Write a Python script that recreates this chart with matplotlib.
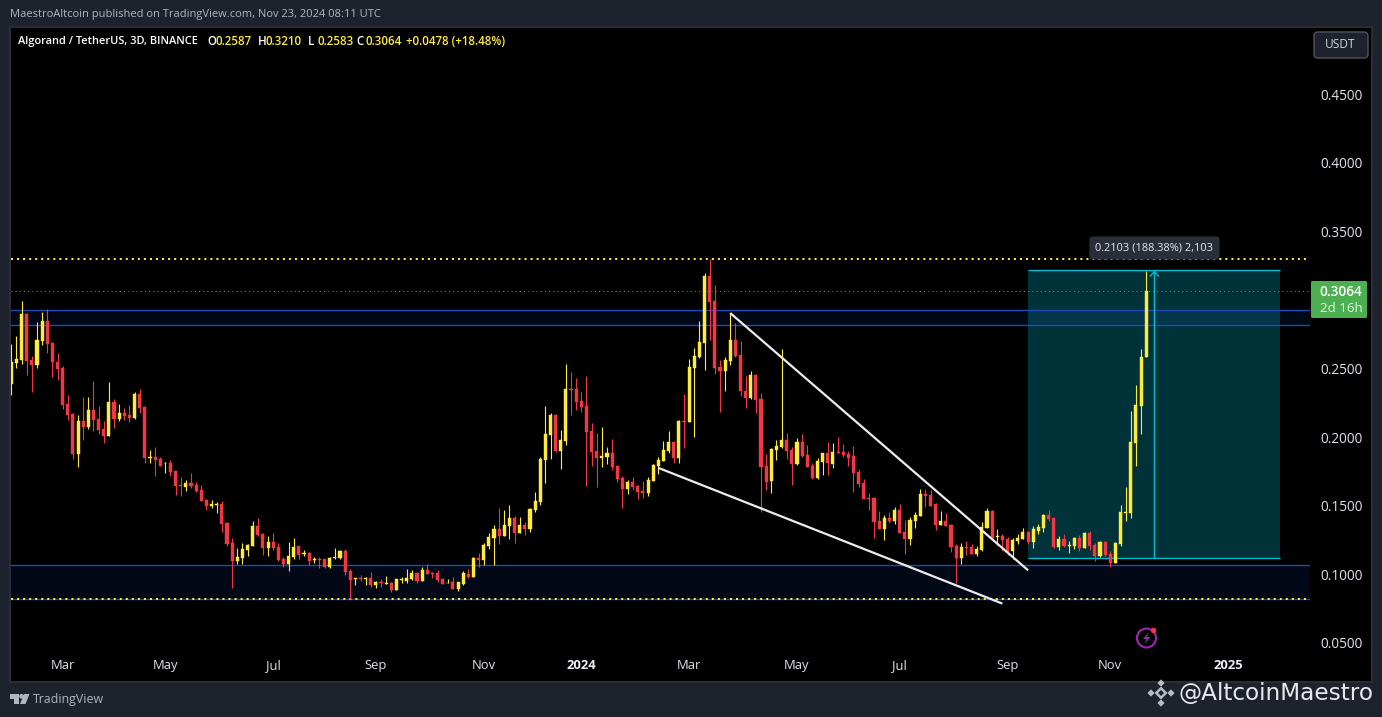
import numpy as np
import matplotlib
matplotlib.use("Agg")
import matplotlib.pyplot as plt
from matplotlib.patches import Rectangle, Circle, Polygon, FancyBboxPatch
from matplotlib.transforms import Affine2D

# ALGO/USDT 3D candles, prices in ten-thousandths of a USDT
highs_e4 = [
2678,2736,2991,2904,2590,2838,2911,2933,2692,2612,
2517,2306,2175,2160,2291,2291,2408,2226,2116,2401,
2277,2240,2211,2233,2328,2350,2226,1905,1927,1854,
1817,1832,1752,1708,1686,1737,1672,1650,1548,1540,
1526,1533,1380,1263,1191,1227,1220,1387,1409,1300,
1278,1300,1227,1125,1234,1263,1205,1176,1161,1125,
1125,1110,1125,1191,1176,1183,1037,972,994,979,
1016,950,965,986,943,965,979,1037,1030,1016,
1052,1074,1016,1030,972,965,979,943,1023,1037,
1125,1154,1227,1300,1358,1482,1468,1504,1424,1417,
1380,1482,1599,1854,2226,2175,2167,2051,2532,2474,
2430,2328,2444,2102,2029,2073,1927,1985,1796,1715,
1686,1708,1650,1679,1708,1803,1854,1971,2043,1971,
2124,2313,2568,2649,2845,3195,3297,3108,2561,2583,
2904,2831,2700,2444,2481,2459,2320,1876,1920,1978,
2641,2029,1927,1990,2022,1941,1810,1847,1883,1963,
1956,1999,1949,1898,1934,1766,1694,1591,1562,1460,
1431,1453,1489,1511,1395,1417,1453,1621,1621,1613,
1519,1460,1446,1366,1220,1227,1242,1220,1205,1380,
1482,1468,1329,1293,1271,1263,1293,1336,1315,1351,
1366,1438,1468,1409,1278,1293,1242,1271,1285,1307,
1315,1227,1242,1242,1169,1234,1504,1635,2189,2379,
2641,3210]
lows_e4 = [
2306,2503,2532,2452,2328,2503,2670,2612,2437,2415,
2204,2124,1839,1781,1978,2058,2043,2022,1956,2007,
2065,2116,2124,2109,2131,2175,1810,1810,1715,1788,
1737,1715,1577,1570,1606,1628,1599,1533,1468,1482,
1446,1307,1205,899,1074,1074,1132,1205,1278,1140,
1132,1176,1096,1052,1023,1110,1110,1132,1067,1081,
1045,1045,1045,1110,1110,994,819,921,950,921,
906,899,906,928,870,884,935,935,957,935,
950,1001,972,943,928,935,892,877,921,972,
979,1052,1067,1183,1067,1220,1278,1256,1227,1300,
1285,1307,1453,1504,1664,1839,1890,1766,1941,2160,
2197,2182,1643,1788,1635,1781,1803,1759,1672,1482,
1584,1613,1548,1555,1570,1679,1730,1825,1883,1810,
1810,1920,2109,1999,2576,2488,2707,2459,2182,2335,
2525,2583,2299,2211,2277,2175,1453,1613,1591,1832,
1920,1839,1650,1796,1854,1781,1694,1694,1723,1723,
1774,1883,1854,1788,1599,1635,1548,1468,1263,1329,
1249,1373,1366,1300,1147,1212,1336,1424,1489,1497,
1322,1358,1351,1161,935,1074,1140,1147,1132,1169,
1336,1249,1212,1169,1140,1110,1220,1256,1220,1191,
1293,1307,1387,1191,1176,1198,1154,1183,1169,1191,
1176,1096,1125,1132,1052,1081,1205,1387,1409,1788,
2022,2583]
opens_e4 = [
2386,2539,2561,2896,2561,2525,2700,2845,2685,2547,
2503,2240,2167,1876,2116,2073,2197,2131,2058,2007,
2255,2131,2175,2160,2138,2313,2218,1847,1854,1839,
1808,1810,1752,1650,1635,1664,1650,1613,1540,1497,
1509,1511,1373,1227,1096,1118,1176,1205,1351,1293,
1191,1234,1198,1110,1074,1125,1205,1147,1154,1106,
1110,1110,1052,1118,1118,1169,1023,965,972,965,
972,921,943,931,935,884,960,950,965,1008,
950,1030,1011,1008,965,935,943,892,928,1001,
979,1118,1103,1205,1263,1329,1278,1351,1409,1300,
1358,1329,1468,1526,1832,2014,2160,1898,1971,2350,
2350,2262,2226,2043,1898,1847,1854,1883,1788,1701,
1621,1672,1643,1606,1592,1679,1788,1825,1898,1963,
1847,2116,2109,2503,2583,2685,3173,2991,2510,2481,
2554,2707,2598,2335,2282,2452,2277,1788,1679,1905,
1927,1978,1905,1803,1963,1868,1788,1701,1818,1883,
1803,1890,1890,1876,1861,1745,1664,1555,1555,1387,
1329,1409,1387,1468,1307,1256,1387,1424,1584,1577,
1511,1358,1387,1358,1205,1118,1198,1198,1147,1176,
1336,1460,1273,1278,1256,1169,1242,1256,1307,1234,
1315,1336,1431,1409,1198,1256,1208,1205,1263,1191,
1300,1212,1132,1234,1147,1081,1220,1448,1446,1956,
2226,2587]
closes_e4 = [
2547,2568,2896,2554,2525,2707,2845,2678,2547,2496,
2233,2160,1876,2116,2073,2197,2124,2051,2007,2255,
2131,2175,2153,2138,2313,2211,1847,1854,1832,1788,
1810,1745,1643,1645,1664,1643,1606,1533,1497,1511,
1514,1366,1220,1096,1125,1183,1212,1351,1285,1191,
1234,1191,1103,1074,1132,1198,1140,1154,1096,1110,
1106,1052,1118,1125,1169,1016,957,972,965,972,
921,943,938,935,884,965,965,972,1008,950,
1030,1001,1006,957,928,940,892,943,1008,979,
1118,1103,1212,1271,1329,1278,1358,1409,1300,1358,
1329,1475,1533,1839,2022,2160,1898,1978,2350,2342,
2255,2218,2036,1890,1847,1861,1883,1781,1694,1621,
1672,1635,1599,1592,1686,1796,1832,1905,1963,1847,
2116,2109,2510,2590,2692,3173,2984,2503,2481,2561,
2707,2590,2335,2284,2452,2270,1781,1672,1912,1934,
1978,1898,1803,1963,1861,1781,1701,1825,1883,1810,
1890,1886,1868,1847,1737,1657,1548,1550,1380,1329,
1409,1387,1468,1300,1256,1395,1431,1584,1570,1497,
1358,1387,1351,1198,1118,1198,1193,1147,1183,1344,
1460,1263,1278,1249,1161,1249,1263,1307,1234,1329,
1344,1431,1402,1198,1256,1205,1212,1263,1191,1300,
1205,1132,1234,1140,1081,1227,1453,1453,1963,2233,
2583,3064]

price_ticks = [0.05, 0.10, 0.15, 0.20, 0.25, 0.35, 0.40, 0.45]
time_labels = ["Mar", "May", "Jul", "Sep", "Nov", "2024", "Mar", "May", "Jul", "Sep", "Nov", "2025"]
time_bars = [10, 30, 51, 71, 92, 111, 132, 153, 173, 194, 214, 237]

resistance_high = (0.2814, 0.2924)
support_zone = (0.0823, 0.1066)
ath_level = 0.3298
last_price = 0.3064
measure_low, measure_high = 0.1117, 0.3215
measure_bars = (198, 247)
measure_arrow_bar = 222.6
upper_wedge = ([140, 198], [0.2904, 0.1030])
lower_wedge = ([126, 193], [0.1776, 0.0787])

YELLOW = "#ffeb3b"
RED = "#f23645"
BG = "#1e222d"
TXT = "#d1d4dc"
W, H = 1382, 717

plt.rcParams["font.family"] = ["Open Sans", "DejaVu Sans"]
fig = plt.figure(figsize=(W / 100, H / 100), dpi=100, facecolor=BG)
T = Affine2D().scale(1, -1).translate(0, H)  # top-left pixel frame for page furniture


def ftext(x, y, s, **kw):
    kw.setdefault("va", "center")
    return fig.text(x / W, 1 - y / H, s, **kw)


fig.add_artist(Rectangle((10, 27), 1362, 655, transform=T, fc="black", ec="#2a2e39", lw=1.4, zorder=-5))

ax = fig.add_axes([11 / W, 1 - 653 / H, (1310 - 11) / W, (653 - 28) / H])
ax.patch.set_alpha(0)
for s in ax.spines.values():
    s.set_visible(False)
ax.set_xlim(-0.06, 252.9)
ax.set_ylim(0.05 + (643 - 653) / 1372.5, 0.45 + (94 - 28) / 1372.5)

ax.yaxis.tick_right()
ax.set_yticks(price_ticks, [f"{p:.4f}" for p in price_ticks])
ax.tick_params(axis="y", length=0, pad=7.2, labelsize=9.8, labelcolor="#e0e3ea")
ax.set_xticks(time_bars, time_labels)
ax.tick_params(axis="x", length=0, pad=4.5, labelsize=9.4, labelcolor="#e0e3ea")
for lab in ax.get_xticklabels():
    if lab.get_text().isdigit():
        lab.set_fontweight("bold")
        lab.set_color("#eef0f5")

# long-position measure box
ax.add_patch(Rectangle((measure_bars[0], measure_low), measure_bars[1] - measure_bars[0],
                       measure_high - measure_low, fc="#00bcd4", alpha=0.27, lw=0, zorder=1))
ax.hlines([measure_low, measure_high], *measure_bars, color="#00bcd4", lw=1.0, zorder=2)

# zones
for lo, hi in (resistance_high, support_zone):
    ax.axhspan(lo, hi, fc="#2150dc", alpha=0.10, lw=0, zorder=1.5)
    ax.axhline(hi, color="#2148b8", lw=1.0, zorder=2)
    ax.axhline(lo, color="#2148b8", lw=1.0, zorder=2)

ax.axhline(last_price, color="#5f8f66", lw=0.75, ls=(0, (1, 3)), zorder=2)
for lvl in (ath_level, support_zone[0]):
    ax.axhline(lvl, color=YELLOW, lw=1.45, ls=(0, (1, 2)), zorder=2.5)

# candles
o = np.array(opens_e4) / 1e4
c = np.array(closes_e4) / 1e4
hi_ = np.array(highs_e4) / 1e4
lo_ = np.array(lows_e4) / 1e4
x = np.arange(len(o))
colors = np.where(c >= o, YELLOW, RED)
ax.vlines(x, lo_, hi_, colors=colors, lw=0.8, zorder=3)
ax.bar(x, np.abs(c - o), bottom=np.minimum(o, c), width=3.1 / 5.136, color=colors,
       edgecolor=colors, linewidth=0.3, zorder=4)

# measure arrow
ax.annotate("", xy=(measure_arrow_bar, measure_high), xytext=(measure_arrow_bar, measure_low),
            arrowprops=dict(arrowstyle="->,head_length=0.35,head_width=0.3", color="#00bcd4",
                            lw=1.0, shrinkA=0, shrinkB=0), zorder=5)
ax.text(measure_arrow_bar, 0.3378, "0.2103 (188.38%) 2,103", ha="center", va="center",
        fontsize=7.9, color="#e6e8ee", zorder=6,
        bbox=dict(boxstyle="round,pad=0.55,rounding_size=0.3", fc="#2a2e39", ec="none"))

# wedge
for (bx, by) in (upper_wedge, lower_wedge):
    ax.plot(bx, by, color="#ececec", lw=1.6, solid_capstyle="butt", zorder=5, clip_on=False)

# price scale label
fig.add_artist(FancyBboxPatch((1311, 281), 56, 37, boxstyle="round,pad=0,rounding_size=1.5",
                              transform=T, fc="#4caf50", ec="none"))
ftext(1341, 291.5, "0.3064", ha="center", fontsize=9.8, color="white", fontweight="semibold")
ftext(1341, 308, "2d 16h", ha="center", fontsize=9.6, color="#e4f3e4")

# USDT button
fig.add_artist(FancyBboxPatch((1314, 32), 54, 26, boxstyle="round,pad=0,rounding_size=4",
                              transform=T, fc="#1e222d", ec="#50535e", lw=1))
ftext(1340, 45, "USDT", ha="center", fontsize=8.6, color=TXT)

# header
ftext(10, 14.5, "MaestroAltcoin published on TradingView.com, Nov 23, 2024 08:11 UTC",
      fontsize=8.0, color="#b2b5be")
lg = dict(fontsize=8.3, fontweight="semibold")
ftext(18, 41.5, "Algorand / TetherUS, 3D, BINANCE", color="white", fontsize=7.9, fontweight="semibold")
for px_, s, col in [(207, "O", "white"), (216, "0.2587", YELLOW), (258, "H", "white"),
                    (266, "0.3210", YELLOW), (308, "L", "white"), (317, "0.2583", YELLOW),
                    (356, "C", "white"), (365, "0.3064", YELLOW),
                    (406, "+0.0478 (+18.48%)", YELLOW)]:
    ftext(px_, 41.5, s, color=col, **lg)

# footer: TradingView mark
fig.add_artist(Polygon([(10, 694), (19, 694), (19, 704), (14, 704), (14, 698.5), (10, 698.5)],
                       transform=T, fc="#b2b5be", ec="none"))
fig.add_artist(Circle((21.5, 696.3), 2.3, transform=T, fc="#b2b5be", ec="none"))
fig.add_artist(Polygon([(24, 694), (29.5, 694), (25.5, 704), (20, 704)],
                       transform=T, fc="#b2b5be", ec="none"))
ftext(33, 699.5, "TradingView", fontsize=8.9, color="#b2b5be")

# footer: handle with diamond mark
gray = "#b9bcc4"
for cx, cy, r in [(1161, 693, 6.5), (1151, 693, 3.6), (1171, 693, 3.6),
                  (1161, 703, 3.6), (1161, 683, 3.6)]:
    fig.add_artist(Polygon([(cx - r, cy), (cx, cy - r), (cx + r, cy), (cx, cy + r)],
                           transform=T, fc=gray, ec="none"))
fig.add_artist(Polygon([(1158, 693), (1161, 690), (1164, 693), (1161, 696)],
                       transform=T, fc=BG, ec="none"))
ftext(1179, 693, "@AltcoinMaestro", fontsize=16.7, color="#e8e9ec", family="DejaVu Sans")

# purple bolt icon
fig.add_artist(Circle((1146.5, 638), 9.5, transform=T, fc="none", ec="#9c27b0", lw=1.5))
fig.add_artist(Polygon([(1149, 632), (1143, 639), (1146.5, 639), (1144.5, 644), (1150.5, 637),
                        (1147, 637)], transform=T, fc="#7b3f98", ec="none"))
fig.add_artist(Circle((1153.5, 630.5), 2.7, transform=T, fc="#f23645", ec="none"))

fig.savefig("out.png", dpi=100, facecolor=BG)
